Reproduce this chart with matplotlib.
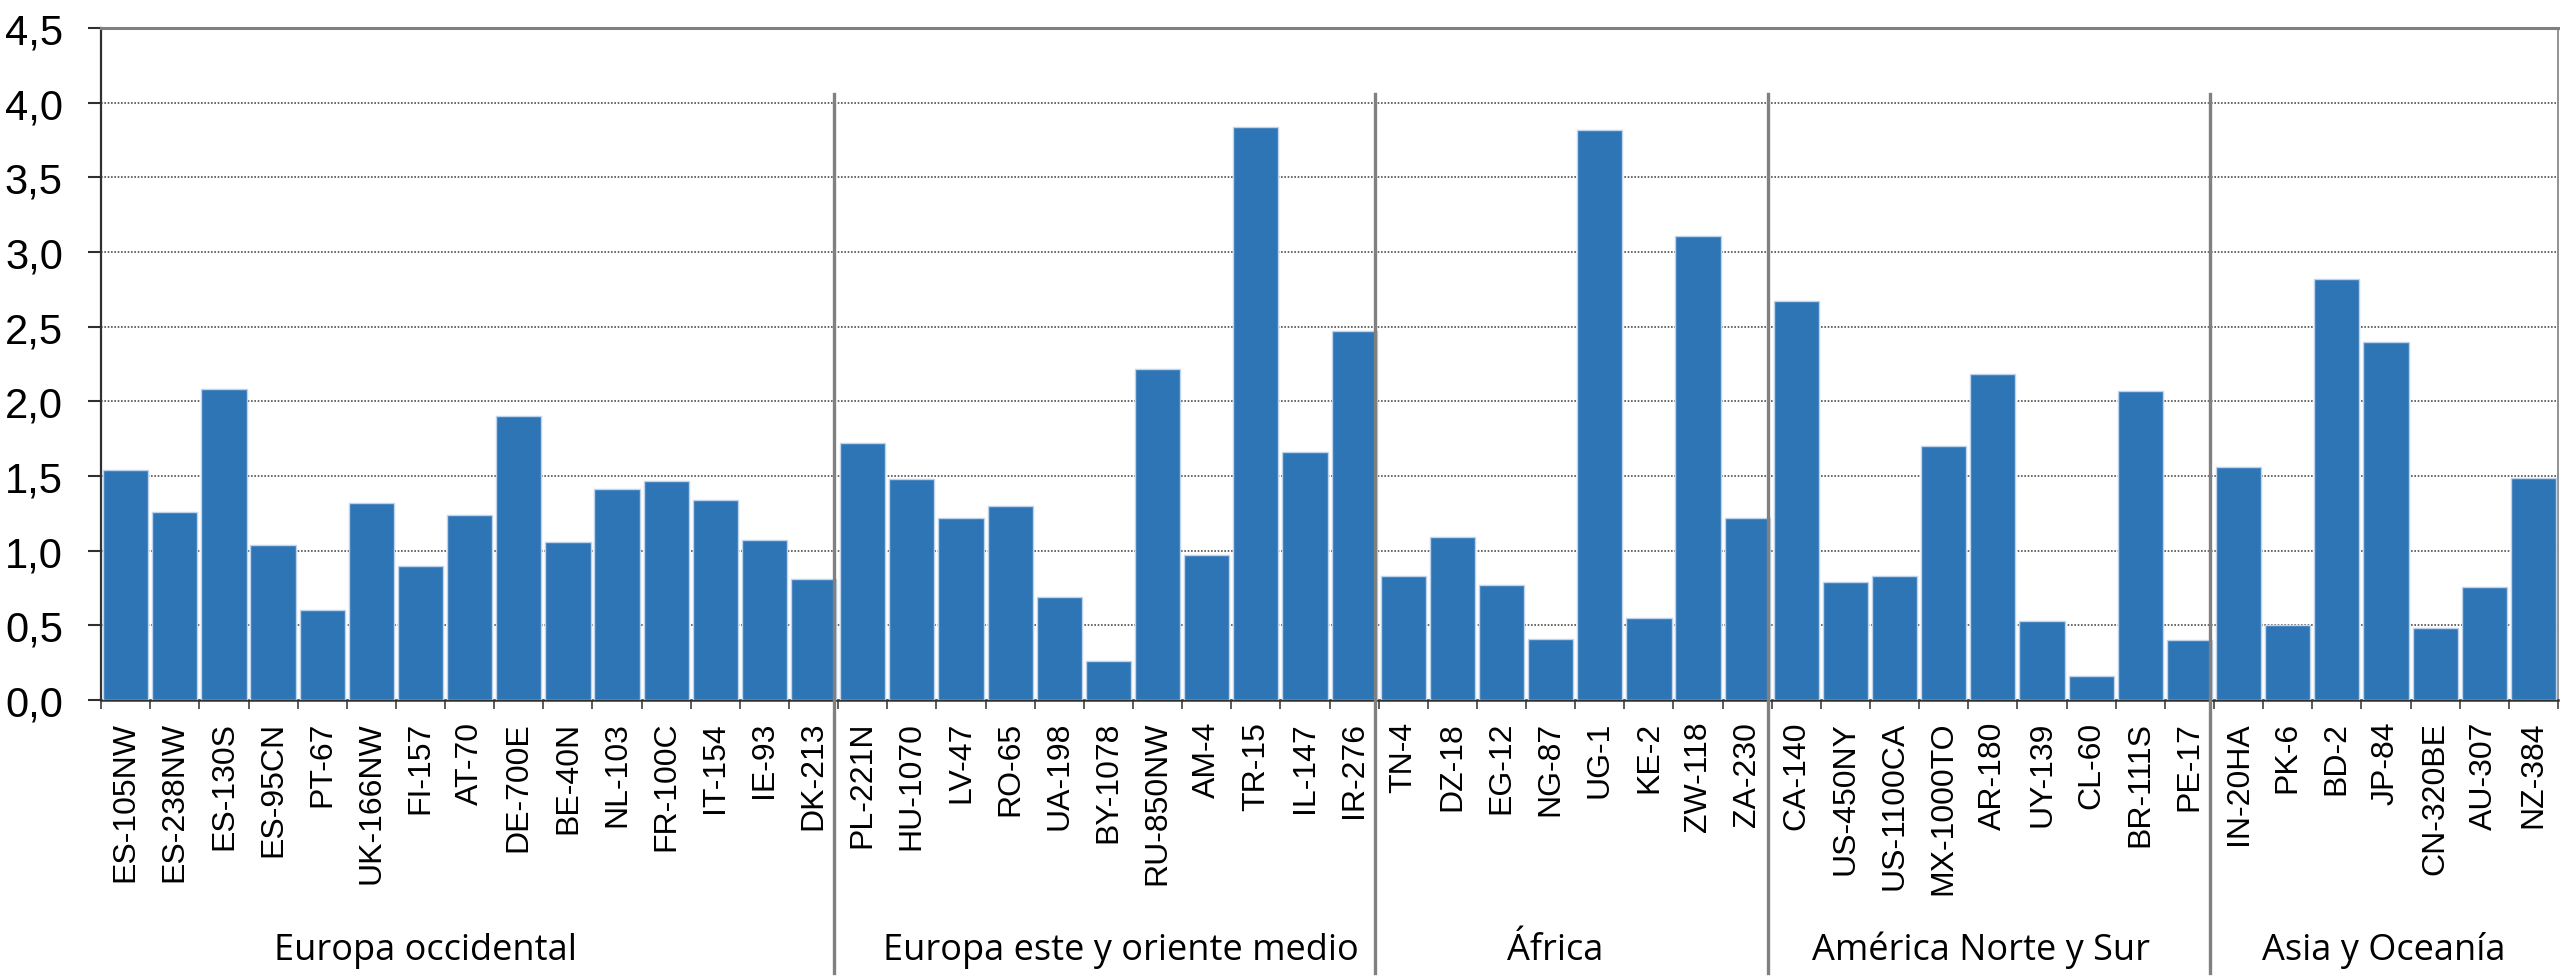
import numpy as np
import matplotlib.pyplot as plt
import matplotlib.transforms as mtransforms

# site codes by region and their values
groups = ["Europa occidental", "Europa este y oriente medio", "África",
          "América Norte y Sur", "Asia y Oceanía"]
group_sizes = [15, 11, 8, 9, 7]

sites = ["ES-105NW", "ES-238NW", "ES-130S", "ES-95CN", "PT-67", "UK-166NW", "FI-157",
         "AT-70", "DE-700E", "BE-40N", "NL-103", "FR-100C", "IT-154", "IE-93", "DK-213",
         "PL-221N", "HU-1070", "LV-47", "RO-65", "UA-198", "BY-1078", "RU-850NW", "AM-4",
         "TR-15", "IL-147", "IR-276",
         "TN-4", "DZ-18", "EG-12", "NG-87", "UG-1", "KE-2", "ZW-118", "ZA-230",
         "CA-140", "US-450NY", "US-1100CA", "MX-1000TO", "AR-180", "UY-139", "CL-60",
         "BR-111S", "PE-17",
         "IN-20HA", "PK-6", "BD-2", "JP-84", "CN-320BE", "AU-307", "NZ-384"]

values = [1.54, 1.26, 2.08, 1.04, 0.60, 1.32, 0.90, 1.24, 1.90, 1.06, 1.41, 1.47, 1.34, 1.07, 0.81,
          1.72, 1.48, 1.22, 1.30, 0.69, 0.26, 2.22, 0.97, 3.84, 1.66, 2.47,
          0.83, 1.09, 0.77, 0.41, 3.82, 0.55, 3.11, 1.22,
          2.67, 0.79, 0.83, 1.70, 2.18, 0.53, 0.16, 2.07, 0.40,
          1.56, 0.50, 2.82, 2.40, 0.48, 0.76, 1.49]

yticks = [0, 0.5, 1.0, 1.5, 2.0, 2.5, 3.0, 3.5, 4.0, 4.5]
ytick_labels = ["0,0", "0,5", "1,0", "1,5", "2,0", "2,5", "3,0", "3,5", "4,0", "4,5"]

fig = plt.figure(figsize=(25.6, 9.78), dpi=100)
ax = fig.add_axes([0.0395, 0.2832, 0.9597, 0.6871])

x = np.arange(len(sites))
ax.bar(x, values, width=0.92, color="#2E75B6", edgecolor="#BFD4EA", linewidth=1.0, zorder=3)

ax.set_xlim(-0.5, len(sites) - 0.5)
ax.set_ylim(0, 4.5)

# y axis
ax.set_yticks(yticks)
ax.set_yticklabels(ytick_labels, fontsize=30, family="Liberation Sans")
ax.tick_params(axis="y", length=9.5, width=1.5, color="#303030", pad=18)
for yv in yticks[1:-1]:
    ax.axhline(yv, color="#505050", linestyle=(0, (1, 1)), linewidth=1.2, zorder=1)

# x axis: tick marks between bars, labels at bar centres
ax.set_xticks(np.arange(len(sites) + 1) - 0.5)
ax.set_xticklabels([])
ax.set_xticks(x, minor=True)
ax.set_xticklabels(sites, minor=True, rotation=90, fontsize=23, family="Liberation Sans",
                   va="top", ha="center")
ax.tick_params(axis="x", which="major", length=6.5, width=1.2, color="#404040")
ax.tick_params(axis="x", which="minor", length=0, pad=15)

for side in ["top", "right"]:
    ax.spines[side].set_color("#808080")
ax.spines["top"].set_linewidth(2.2)
ax.spines["right"].set_linewidth(1.2)
ax.spines["left"].set_color("#303030")
ax.spines["left"].set_linewidth(1.6)
ax.spines["bottom"].set_color("#303030")
ax.spines["bottom"].set_linewidth(1.8)

# region separators and names
edges = np.cumsum(group_sizes) - 0.5
label_shift = [-0.9, 0.25, -0.4, -0.25, -0.05]
for b in edges[:-1]:
    ax.plot([b - 0.08, b - 0.08], [4.055, -1.83], color="#808080", linewidth=2.4,
            clip_on=False, zorder=4)
starts = np.concatenate([[-0.5], edges[:-1]])
label_tf = mtransforms.blended_transform_factory(ax.transData, fig.transFigure)
for name, s, e, dx in zip(groups, starts, edges, label_shift):
    ax.text((s + e) / 2 + dx, 0.0184, name, transform=label_tf,
            fontsize=26, family="Open Sans", ha="center", va="baseline")

fig.savefig("out.png", dpi=100)
